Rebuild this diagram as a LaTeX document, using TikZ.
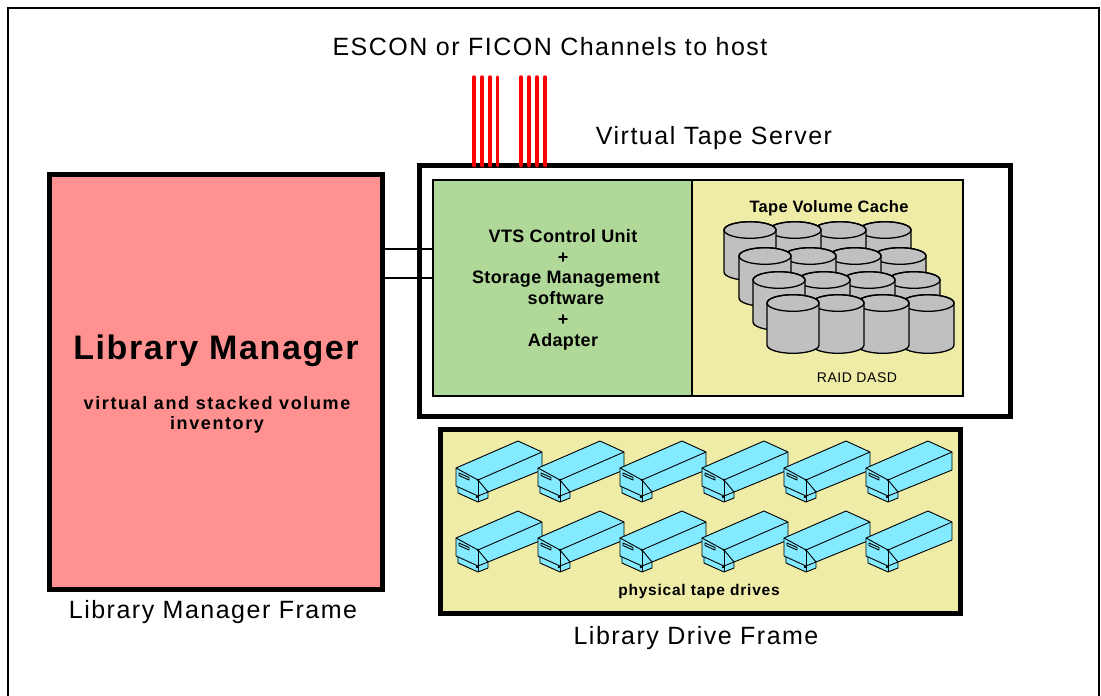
\documentclass[tikz,border=0pt]{standalone}
\usepackage{fontspec}
\setmainfont{Liberation Sans}
\definecolor{lmpink}{RGB}{255,145,145}
\definecolor{vtsgreen}{RGB}{176,216,152}
\definecolor{cachey}{RGB}{238,236,166}
\definecolor{drivecyan}{RGB}{132,234,255}
\definecolor{diskgray}{RGB}{192,192,192}
\begin{document}
\begin{tikzpicture}[x=1pt,y=-1pt,
  heavybox/.style={draw=black, line width=5pt, inner sep=0pt, outer sep=0pt},
  thinbox/.style={draw=black, line width=1.2pt, inner sep=0pt, outer sep=0pt},
  framelbl/.style={inner sep=0pt, font=\fontsize{25}{30}\selectfont\addfontfeature{LetterSpace=6}},
  bigbold/.style={inner sep=0pt, font=\fontsize{34}{40}\selectfont\bfseries\addfontfeature{LetterSpace=4.7}},
  boldtxt/.style={inner sep=0pt, font=\fontsize{18}{22}\selectfont\bfseries\addfontfeature{LetterSpace=2}},
  invtxt/.style={inner sep=0pt, font=\fontsize{18}{22}\selectfont\bfseries\addfontfeature{LetterSpace=9}},
  smallbold/.style={inner sep=0pt, font=\fontsize{16.5}{20}\selectfont\bfseries\addfontfeature{LetterSpace=2}},
  smallreg/.style={inner sep=0pt, font=\fontsize{14}{17}\selectfont\addfontfeature{LetterSpace=4}},
  drvbold/.style={inner sep=0pt, font=\fontsize{15.5}{19}\selectfont\bfseries\addfontfeature{LetterSpace=5}},
  channel/.style={draw=red, line width=3.5pt, line cap=round},
  link/.style={draw=black, line width=1.5pt},
  diskside/.style={fill=diskgray, draw=black, line width=1.3pt},
  drvline/.style={draw=black, line width=0.9pt, line join=round},
]
\useasboundingbox (0,0) rectangle (1101,696);
\fill[white] (0,0) rectangle (1101,696);

% page frame, open at the bottom
\draw[line width=2.5pt] (8,700) -- (8,8) -- (1099,8) -- (1099,700);

% frames
\node[heavybox, fill=lmpink, minimum width=333pt, minimum height=415pt] (lm) at (216,382) {};
\node[heavybox, fill=white, minimum width=591pt, minimum height=251pt] (vts) at (715,291) {};
\node[thinbox, fill=vtsgreen, minimum width=259pt, minimum height=216pt] (vcu) at (562.5,288) {};
\node[thinbox, fill=cachey, minimum width=271pt, minimum height=216pt] (tvc) at (827.5,288) {};
\node[heavybox, fill=cachey, minimum width=520pt, minimum height=184pt] (ldf) at (700.5,521.5) {};

% links between library manager and the VTS control unit
\draw[link] ([yshift=133pt]lm.east) -- ([yshift=133pt]lm.east -| vcu.west);
\draw[link] ([yshift=104pt]lm.east) -- ([yshift=104pt]lm.east -| vcu.west);

% host channels
\foreach \x [count=\i] in {474,482,490,497.5,521,529,537,545}{
  \coordinate (ch\i) at (\x,77);
  \draw[channel] (ch\i) -- (ch\i |- vts.north);
}

% DASD cylinders: back rows first, left ones in front
\foreach \x/\y in {750/230, 765/256, 779/280, 793/303}{
  \foreach \c in {3,2,1,0}{
    \begin{scope}[shift={(\x+45*\c,\y)}]
      \filldraw[diskside] (-26,0) -- (-26,42) arc[start angle=180, end angle=0, x radius=26, y radius=8.3]
        -- (26,0) arc[start angle=0, end angle=-180, x radius=26, y radius=8.3] -- cycle;
      \draw[line width=1.3pt] (0,0) ellipse [x radius=26, y radius=8.3];
    \end{scope}
  }
}

% tape drives
\foreach \r in {0,1}{
  \foreach \c in {0,...,5}{
    \begin{scope}[shift={(450+82*\c,435+70*\r)}]
      \fill[drivecyan] (6,33) -- (68,6) -- (92,17) -- (92,35) -- (38,57) -- (38,63) -- (28,67) -- (8,58) -- (6,51) -- cycle;
      \draw[drvline] (6,33) -- (68,6) -- (92,17) -- (28,45) -- cycle;
      \draw[drvline] (92,17) -- (92,35) -- (38,57);
      \draw[drvline] (28,45) -- (38,57) -- (38,63) -- (28,67) -- (8,58) -- (8,52);
      \draw[drvline] (6,33) -- (6,51) -- (28,61) -- (38,57);
      \draw[drvline] (28,45) -- (28,67);
      \draw[drvline] (9,38) -- (19,42.5) -- (19,45) -- (9,40.5) -- cycle;
      \fill (28,45) circle (1.3);
      \fill (27,62) circle (1.3);
    \end{scope}
  }
}

% texts
\node[framelbl] (t1) at (550,47) {ESCON or FICON Channels to host};
\node[framelbl] (t2) at (714,138) {Virtual Tape Server};
\node[framelbl] (t3) at (213,612) {Library Manager Frame};
\node[framelbl] (t4) at (696,638) {Library Drive Frame};
\node[bigbold] (t5) at (216,351) {Library Manager};
\node[invtxt] (t6) at (217,403) {virtual and stacked volume};
\node[invtxt] (t7) at (217,425) {inventory};
\node[boldtxt] (u1) at (563,236) {VTS Control Unit};
\node[boldtxt] (u2) at (563,258) {+};
\node[boldtxt] (u3) at (566,279) {Storage Management};
\node[boldtxt] (u4) at (566,298) {software};
\node[boldtxt] (u5) at (563,320) {+};
\node[boldtxt] (u6) at (563,342) {Adapter};
\node[smallbold] (c1) at (829,208) {Tape Volume Cache};
\node[smallreg] (c2) at (857,378) {RAID DASD};
\node[drvbold] (d1) at (699,591) {physical tape drives};
\end{tikzpicture}
\end{document}
